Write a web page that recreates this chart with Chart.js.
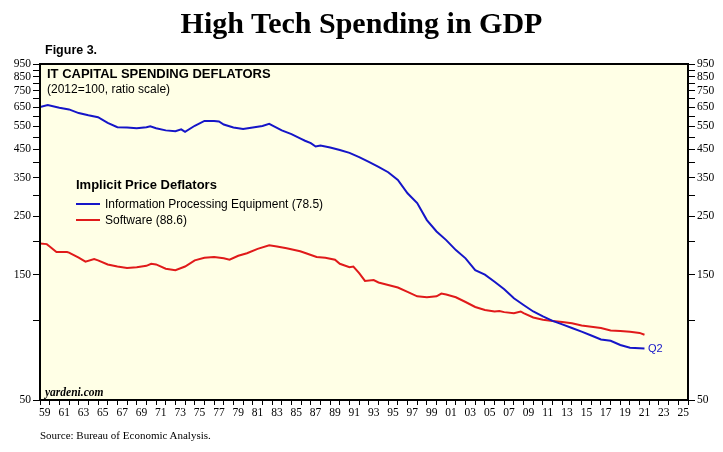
<!DOCTYPE html>
<html>
<head>
<meta charset="utf-8">
<script src="https://cdn.jsdelivr.net/npm/chart.js@4"></script>
<style>
  html, body { margin:0; padding:0; background:#fff; }
  #wrap { position:relative; width:723px; height:452px; overflow:hidden; }
  canvas { position:absolute; left:0; top:0; }
  .ov { position:absolute; white-space:nowrap; line-height:1; }
  #title { left:0; width:723px; top:8px; text-align:center; font-family:"Liberation Serif", serif; font-weight:bold; font-size:30px; color:#000; }
  #fig { left:45px; top:44px; font-family:"Liberation Sans", Arial, sans-serif; font-weight:bold; font-size:12.5px; }
  #sub1 { left:47px; top:67px; font-family:"Liberation Sans", Arial, sans-serif; font-weight:bold; font-size:13px; }
  #sub2 { left:47px; top:83px; font-family:"Liberation Sans", Arial, sans-serif; font-size:12px; }
  #lgT { left:76px; top:178px; font-family:"Liberation Sans", Arial, sans-serif; font-weight:bold; font-size:13px; }
  .lg { left:76px; font-family:"Liberation Sans", Arial, sans-serif; font-size:12px; }
  .lg span.sw { display:inline-block; width:24px; height:2px; vertical-align:middle; margin-right:5px; position:relative; top:-1px; }
  #lg1 { top:198px; }
  #lg2 { top:214px; }
  #q2 { left:648px; top:343px; font-family:"Liberation Sans", Arial, sans-serif; font-size:11px; color:#1515c8; }
  #yard { left:45px; top:387px; font-family:"Liberation Serif", serif; font-style:italic; font-weight:bold; font-size:11.5px; }
  #src { left:40px; top:430px; font-family:"Liberation Serif", serif; font-size:11px; }
</style>
</head>
<body>
<div id="wrap">
  <canvas id="c" width="723" height="452"></canvas>
  <div class="ov" id="title">High Tech Spending in GDP</div>
  <div class="ov" id="fig">Figure 3.</div>
  <div class="ov" id="sub1">IT CAPITAL SPENDING DEFLATORS</div>
  <div class="ov" id="sub2">(2012=100, ratio scale)</div>
  <div class="ov" id="lgT">Implicit Price Deflators</div>
  <div class="ov lg" id="lg1"><span class="sw" style="background:#1515c8"></span>Information Processing Equipment (78.5)</div>
  <div class="ov lg" id="lg2"><span class="sw" style="background:#e01a1a"></span>Software (88.6)</div>
  <div class="ov" id="q2">Q2</div>
  <div class="ov" id="yard">yardeni.com</div>
  <div class="ov" id="src">Source: Bureau of Economic Analysis.</div>
</div>
<script>
// ---- data ----
const equipYears = [1959.0,1959.8,1961,1962,1963,1964,1965,1966,1967,1968,1969,1970,1970.4,1971,1972,1973,1973.6,1974,1975,1976,1977,1977.5,1978,1979,1980,1981,1982,1982.7,1983,1984,1985,1986,1986.4,1987,1987.5,1988,1989,1990,1991,1992,1993,1994,1995,1996,1997,1998,1999,2000,2001,2002,2003,2004,2005,2006,2007,2008,2009,2010,2011,2012,2013,2014,2015,2016,2017,2018,2019,2020,2021.5];
const equipValues = [652,663,648,638,618,606,596,567,546,545,541,546,550,541,531,527,536,524,553,577,577,574,559,545,537,545,552,562,555,531,514,493,485,475,461,465,457,447,436,420,403,386,368,344,306,281,242,219,203,186,173,156,150,141,132,122,115,108.6,104,100,97,94,91,88,85,84,81,79,78.5];

const softYears = [1959,1959.7,1960,1960.7,1961.8,1962,1963,1963.7,1964.6,1965,1966,1967,1968,1969,1970,1970.5,1971,1972,1973,1974,1975,1976,1977,1978,1978.6,1979.5,1980.4,1981.5,1982.7,1983.5,1984.5,1985.9,1986.5,1987.6,1988.5,1989.5,1990,1991,1991.4,1992,1992.6,1993.5,1994,1995,1996,1997,1998,1999,2000,2000.5,2001,2002,2003,2004,2005,2006,2006.5,2007,2008,2008.7,2009,2010,2011,2012,2013,2014,2015,2016,2017,2018,2019,2020,2021,2021.5];
const softValues = [197,196,192,183,183,182,174,168,172,170,164,161,159,160,162,165,164,158,156,161,170,174,175,173,171,177,181,188,194,192,189,184,181,175,174,171,165,160,161,152,142,143,140,137,134,129,124,123,124,127,126,123,118,113,110,108.6,109,108,107,108.6,107,103,101,100,99,98,96,95,94,92,91.5,91,90,88.6];

const xMin = 1959, xMax = 2026;
const yTickValues = [50,100,150,200,250,300,350,400,450,500,550,600,650,700,750,800,850,900,950];
const yLabelValues = [50,150,250,350,450,550,650,750,850,950];
const xTickYears = [];
for (let y = xMin; y <= xMax; y++) xTickYears.push(y);
const xLabelYears = [];
for (let y = 1959; y <= 2025; y += 2) xLabelYears.push(y);

const BLUE = '#1515c8', RED = '#e01a1a', BG = '#ffffe6';

const frame = {
  id: 'frame',
  beforeDatasetsDraw(chart) {
    const a = chart.chartArea, ctx = chart.ctx;
    ctx.save(); ctx.fillStyle = BG;
    ctx.fillRect(a.left, a.top, a.right - a.left, a.bottom - a.top);
    ctx.restore();
  },
  afterDatasetsDraw(chart) {
    const a = chart.chartArea, ctx = chart.ctx;
    ctx.save(); ctx.strokeStyle = '#000'; ctx.lineWidth = 2;
    ctx.strokeRect(a.left, a.top, a.right - a.left, a.bottom - a.top);
    ctx.restore();
  }
};

const tickFont = { family: 'Liberation Serif', size: 11.5 };
function yAxis(pos, w) {
  return {
    type: 'logarithmic', position: pos, min: 50, max: 950,
    afterBuildTicks: s => { s.ticks = yTickValues.map(v => ({ value: v })); },
    afterFit: s => { s.width = w; },
    ticks: {
      autoSkip: false, color: '#000', font: tickFont, padding: 2,
      callback: v => yLabelValues.includes(v) ? String(v) : ''
    },
    grid: { drawOnChartArea: false, tickLength: 7, tickColor: '#000', tickWidth: 1 },
    border: { display: true, color: '#000', width: 2 }
  };
}

new Chart(document.getElementById('c'), {
  type: 'line',
  data: {
    datasets: [
      { label: 'Information Processing Equipment (78.5)', data: equipYears.map((x, i) => ({ x, y: equipValues[i] })),
        borderColor: BLUE, borderWidth: 2, pointRadius: 0, tension: 0, yAxisID: 'y' },
      { label: 'Software (88.6)', data: softYears.map((x, i) => ({ x, y: softValues[i] })),
        borderColor: RED, borderWidth: 2, pointRadius: 0, tension: 0, yAxisID: 'y' }
    ]
  },
  options: {
    responsive: false, animation: false, devicePixelRatio: 1,
    layout: { padding: { top: 64, left: 0, right: 0, bottom: 0 } },
    plugins: { legend: { display: false }, tooltip: { enabled: false }, title: { display: false } },
    scales: {
      x: {
        type: 'linear', min: xMin, max: xMax,
        afterBuildTicks: s => { s.ticks = xTickYears.map(v => ({ value: v })); },
        afterFit: s => { s.height = 52; },
        ticks: {
          autoSkip: false, maxRotation: 0, minRotation: 0, color: '#000', font: tickFont,
          padding: 1, labelOffset: 4.8,
          callback: v => xLabelYears.includes(v) ? String(v % 100).padStart(2, '0') : ''
        },
        grid: { drawOnChartArea: false, tickLength: 5, tickColor: '#000', tickWidth: 1 },
        border: { display: true, color: '#000', width: 2 }
      },
      y: yAxis('left', 40),
      y2: yAxis('right', 35)
    }
  },
  plugins: [frame]
});
</script>
</body>
</html>
